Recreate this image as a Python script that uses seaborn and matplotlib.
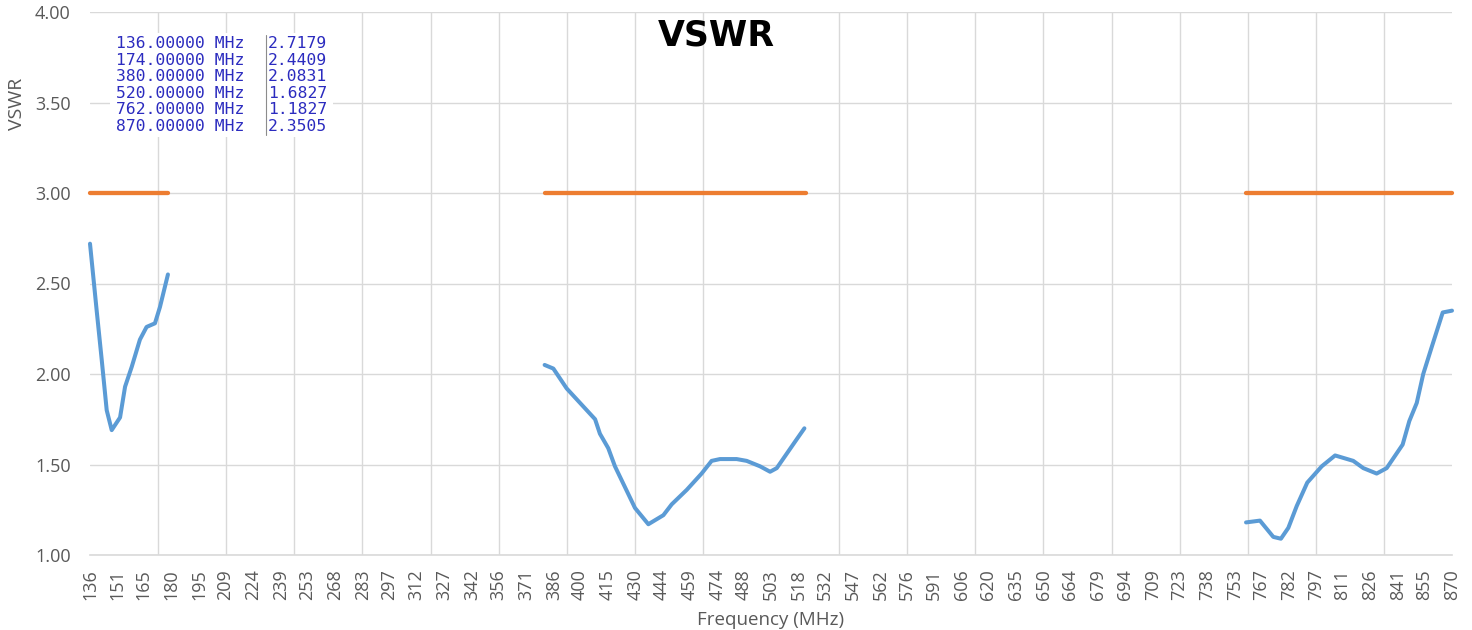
import numpy as np
import pandas as pd
import matplotlib
matplotlib.use("Agg")
import matplotlib.pyplot as plt
import seaborn as sns

sns.set_style("white")
plt.rcParams["font.family"] = ["Open Sans", "DejaVu Sans"]

# measured VSWR, three bands (MHz)
band1_freq = [136, 139.6, 142.3, 145, 147.7, 152.2, 154.9, 158.5, 162.9, 166.5, 171, 173.7, 178]
band1_vswr = [2.72, 2.35, 2.08, 1.80, 1.69, 1.76, 1.93, 2.04, 2.19, 2.26, 2.28, 2.37, 2.55]

band2_freq = [381, 385.7, 392.9, 400.1, 408.2, 410.8, 415.3, 418.9, 429.7, 436.9, 445.0, 449.5,
              457.6, 465.6, 471.0, 475.5, 484.5, 489.9, 497.1, 502.5, 506.1, 511.5, 516.9, 521]
band2_vswr = [2.05, 2.03, 1.92, 1.84, 1.75, 1.67, 1.59, 1.49, 1.26, 1.17, 1.22, 1.28,
              1.36, 1.45, 1.52, 1.53, 1.53, 1.52, 1.49, 1.46, 1.48, 1.56, 1.64, 1.70]

band3_freq = [759, 766.5, 773.7, 777.8, 781.8, 786.3, 792, 799.8, 807, 816.8, 822.2, 829.4,
              834.8, 843.4, 847, 851, 854.5, 859.1, 865, 870]
band3_vswr = [1.18, 1.19, 1.10, 1.09, 1.15, 1.27, 1.40, 1.49, 1.55, 1.52, 1.48, 1.45,
              1.48, 1.61, 1.74, 1.84, 2.00, 2.15, 2.34, 2.35]

# 3.0 limit over each band
limit_start = [136, 381, 759]
limit_end = [178, 522, 870]
limit_vswr = 3.0

tick_labels = ["136", "151", "165", "180", "195", "209", "224", "239", "253", "268", "283",
               "297", "312", "327", "342", "356", "371", "386", "400", "415", "430", "444",
               "459", "474", "488", "503", "518", "532", "547", "562", "576", "591", "606",
               "620", "635", "650", "664", "679", "694", "709", "723", "738", "753", "767",
               "782", "797", "811", "826", "841", "855", "870"]

marker_freqs = ["136.00000 MHz", "174.00000 MHz", "380.00000 MHz",
                "520.00000 MHz", "762.00000 MHz", "870.00000 MHz"]
marker_vals = ["2.7179", "2.4409", "2.0831", "1.6827", "1.1827", "2.3505"]

meas = pd.concat([
    pd.DataFrame({"freq": f, "vswr": v, "band": i})
    for i, (f, v) in enumerate([(band1_freq, band1_vswr), (band2_freq, band2_vswr),
                                (band3_freq, band3_vswr)])
])
lim = pd.DataFrame({
    "freq": [x for pair in zip(limit_start, limit_end) for x in pair],
    "vswr": limit_vswr,
    "band": np.repeat(range(len(limit_start)), 2),
})

W, H = 1472, 630
fig = plt.figure(figsize=(W / 100, H / 100), dpi=100)
ax = fig.add_axes([90 / W, 75 / H, 1362 / W, 543 / H])

grey = "#595959"
grid = "#D9D9D9"

sns.lineplot(data=lim, x="freq", y="vswr", units="band", estimator=None, ax=ax,
             color="#ED7D31", linewidth=3.1, solid_capstyle="round", clip_on=False, zorder=3)
sns.lineplot(data=meas, x="freq", y="vswr", units="band", estimator=None, ax=ax,
             color="#5B9BD5", linewidth=2.9, solid_capstyle="round",
             solid_joinstyle="round", clip_on=False, zorder=4)

ax.set_xlim(136, 870)
ax.set_ylim(1, 4)
ax.set_xticks([int(t) for t in tick_labels])
ax.set_xticklabels(tick_labels, rotation=90)
ax.set_xticks(np.linspace(136, 870, 21), minor=True)
ax.set_yticks(np.arange(1, 4.01, 0.5))
ax.set_yticklabels([f"{t:.2f}" for t in np.arange(1, 4.01, 0.5)])
ax.tick_params(axis="both", which="both", length=0, labelsize=13, colors=grey)
ax.tick_params(axis="x", pad=10)
ax.tick_params(axis="y", pad=14)

ax.grid(axis="y", which="major", color=grid, linewidth=1)
ax.grid(axis="x", which="minor", color=grid, linewidth=1)
ax.set_axisbelow(True)
for s in ["top", "right", "left"]:
    ax.spines[s].set_visible(False)
ax.spines["bottom"].set_color(grid)
ax.spines["bottom"].set_linewidth(1.2)

ax.set_xlabel("Frequency (MHz)", fontsize=13.5, color=grey, labelpad=8)
ax.set_ylabel("VSWR", fontsize=14, color=grey)
ax.yaxis.set_label_coords(-0.047, 0.83)

fig.text(716 / W, 1 - 35 / H, "VSWR", fontsize=25, fontweight="bold",
         family="DejaVu Sans", ha="center", va="center", color="black")

# marker readout box
fig.patches.append(plt.Rectangle((110 / W, 1 - 137 / H), 223 / W, 104 / H,
                                 transform=fig.transFigure, facecolor="white",
                                 edgecolor="none", zorder=5))
fig.add_artist(plt.Line2D([265.5 / W, 265.5 / W], [1 - 35 / H, 1 - 135 / H],
                          transform=fig.transFigure, color="#8c8c8c", linewidth=0.8, zorder=6))
for i, (mf, mv) in enumerate(zip(marker_freqs, marker_vals)):
    y = 1 - (43.5 + i * 16.6) / H
    fig.text(116 / W, y, mf, family="DejaVu Sans Mono", fontsize=11.8,
             color="#2b2bbf", va="center", ha="left", zorder=7)
    fig.text(268 / W, y, mv, family="DejaVu Sans Mono", fontsize=11.8,
             color="#2b2bbf", va="center", ha="left", zorder=7)

fig.savefig("out.png", dpi=100, facecolor="white")
